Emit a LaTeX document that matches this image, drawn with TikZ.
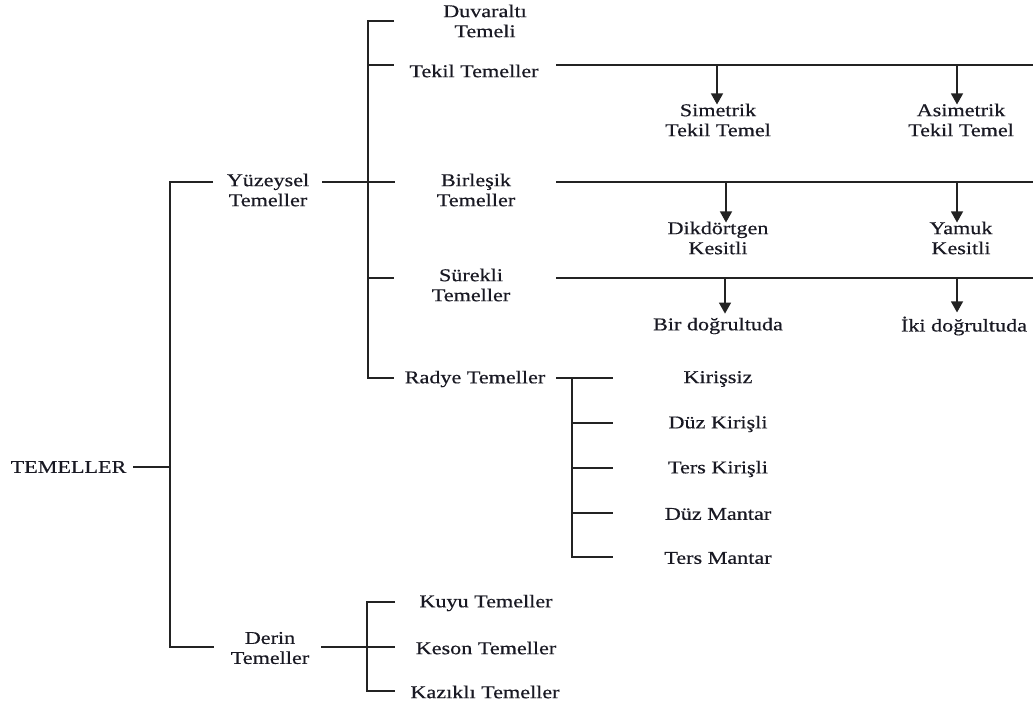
\documentclass[tikz,border=0pt]{standalone}
\usepackage{fontspec}
\setmainfont{Liberation Serif}[FakeStretch=1.23,FakeBold=0.5]
\usetikzlibrary{arrows.meta}
\begin{document}
\begin{tikzpicture}[x=1pt,y=-1pt,
  tx/.style={font=\fontsize{18}{20}\selectfont, align=center, inner sep=0pt, text={rgb,255:red,25;green,25;blue,35}},
  ln/.style={line width=1.3pt, draw={rgb,255:red,35;green,35;blue,35}},
  arr/.style={ln, -{Triangle[width=12pt,length=11pt]}}]
\useasboundingbox (0,0) rectangle (1033,706);
% nodes
\node[tx] (tem) at (68.5,467) {TEMELLER};
\node[tx] (yuz) at (268,190) {Yüzeysel\\Temeller};
\node[tx] (der) at (270,648) {Derin\\Temeller};
\node[tx] (duv) at (485,21) {Duvaraltı\\Temeli};
\node[tx] (tek) at (474,71) {Tekil Temeller};
\node[tx] (bir) at (476,190) {Birleşik\\Temeller};
\node[tx] (sur) at (471,285) {Sürekli\\Temeller};
\node[tx] (rad) at (475,379) {Radye Temeller};
\node[tx] (sim) at (718,120) {Simetrik\\Tekil Temel};
\node[tx] (asi) at (961,120) {Asimetrik\\Tekil Temel};
\node[tx] (dik) at (718,238) {Dikdörtgen\\Kesitli};
\node[tx] (yam) at (961,238) {Yamuk\\Kesitli};
\node[tx] (bdo) at (718,326) {Bir doğrultuda};
\node[tx] (ido) at (964,326) {İki doğrultuda};
\node[tx] (kir) at (718,379) {Kirişsiz};
\node[tx] (dkr) at (718,424) {Düz Kirişli};
\node[tx] (tkr) at (718,469) {Ters Kirişli};
\node[tx] (dma) at (718,514) {Düz Mantar};
\node[tx] (tma) at (718,558) {Ters Mantar};
\node[tx] (kuy) at (486,603) {Kuyu Temeller};
\node[tx] (kes) at (486,648) {Keson Temeller};
\node[tx] (kaz) at (485,692) {Kazıklı Temeller};
% junction coordinates
\coordinate (t0) at (133,467);
\coordinate (t1) at (170,467);
\coordinate (a1) at (170,182);
\coordinate (a2) at (170,647);
\coordinate (yL) at (213,182);
\coordinate (dL) at (214,647);
\coordinate (yR) at (322,182);
\coordinate (bTop) at (368,21);
\coordinate (bBot) at (368,378);
\coordinate (e1) at (394,21);
\coordinate (e2) at (394,65);
\coordinate (e3) at (395,182);
\coordinate (e4) at (394,278);
\coordinate (e5) at (394,378);
\coordinate (s2) at (368,65);
\coordinate (s4) at (368,278);
% main trunk
\draw[ln] (t0) -- (t1);
\draw[ln] (yL) -- (a1) -- (a2) -- (dL);
% surface branch
\draw[ln] (yR) -- (e3);
\draw[ln] (e1) -- (bTop) -- (bBot) -- (e5);
\draw[ln] (s2) -- (e2);
\draw[ln] (s4) -- (e4);
% Tekil
\coordinate (tk0) at (556,65);
\coordinate (tk1) at (1033,65);
\coordinate (tk2) at (717,65);
\coordinate (tk3) at (957,65);
\draw[ln] (tk0) -- (tk1);
\draw[arr] (tk2) -- ([yshift=-1pt]tk2 |- sim.north);
\draw[arr] (tk3) -- ([yshift=-1pt]tk3 |- asi.north);
% Birlesik
\coordinate (bk0) at (556,182);
\coordinate (bk1) at (1033,182);
\coordinate (bk2) at (726,182);
\coordinate (bk3) at (957,182);
\draw[ln] (bk0) -- (bk1);
\draw[arr] (bk2) -- ([yshift=-1pt]bk2 |- dik.north);
\draw[arr] (bk3) -- ([yshift=-1pt]bk3 |- yam.north);
% Surekli
\coordinate (sk0) at (556,278);
\coordinate (sk1) at (1033,278);
\coordinate (sk2) at (725,278);
\coordinate (sk3) at (957,278);
\draw[ln] (sk0) -- (sk1);
\draw[arr] (sk2) -- ([yshift=4pt]sk2 |- bdo.north);
\draw[arr] (sk3) -- ([yshift=4pt]sk3 |- ido.north);
% Radye
\coordinate (r0) at (556,378);
\coordinate (r1) at (572,378);
\coordinate (rE) at (613,378);
\coordinate (r5) at (572,557);
\draw[ln] (r0) -- (rE);
\draw[ln] (r1) -- (r5) -- (613,557);
\foreach \yy in {423,468,513} \draw[ln] (572,\yy) -- (613,\yy);
% Derin
\coordinate (dR) at (321,647);
\coordinate (k0) at (367,602);
\coordinate (k2) at (367,691);
\draw[ln] (dR) -- (395,647);
\draw[ln] (395,602) -- (k0) -- (k2) -- (395,691);
\end{tikzpicture}
\end{document}
